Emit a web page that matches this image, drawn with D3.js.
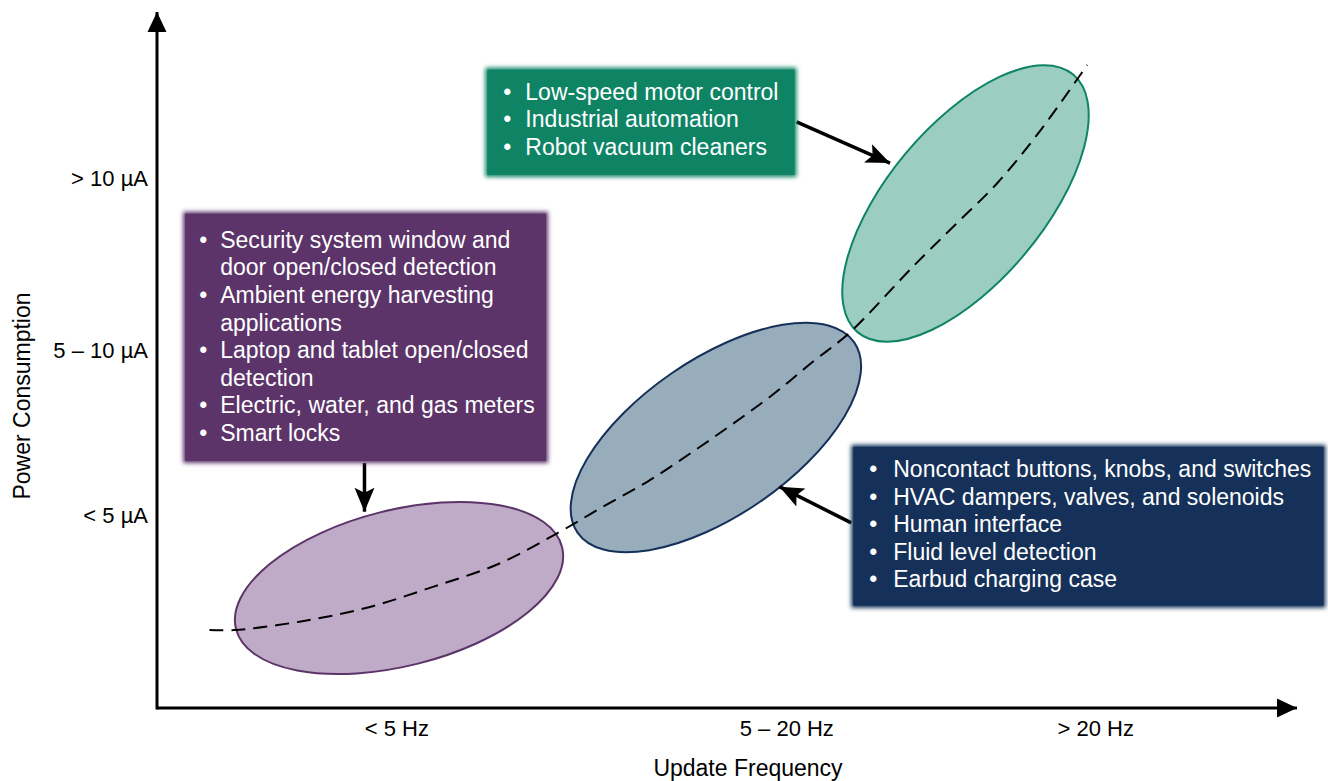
<!DOCTYPE html>
<html>
<head>
<meta charset="utf-8">
<script src="https://cdn.jsdelivr.net/npm/d3@7"></script>
<style>
  html, body { margin: 0; padding: 0; background: #ffffff; }
  svg { display: block; font-family: "Liberation Sans", Arial, Helvetica, sans-serif; }
</style>
</head>
<body>
<svg id="chart" width="1328" height="781"></svg>
<script>
// ---------------- data ----------------
const xTickLabels = ["< 5 Hz", "5 – 20 Hz", "> 20 Hz"];
const xTickValues = [21.0, 55.2, 82.3];
const yTickLabels = ["> 10 µA", "5 – 10 µA", "< 5 µA"];
const yTickValues = [76.15, 51.3, 27.6];
const xTitle = "Update Frequency";
const yTitle = "Power Consumption";

// trend curve (frequency units, power units)
const trendX = [4.6, 6.8, 12.5, 18.4, 24.2, 30.1, 35.1, 39.1, 43.0, 46.8, 50.4, 54.0, 57.5, 60.8, 66.3, 70.0, 73.7, 77.5, 81.6];
const trendY = [11.2, 11.2, 12.4, 14.4, 17.4, 20.8, 25.1, 28.9, 32.5, 36.6, 40.7, 45.0, 49.7, 54.0, 63.4, 69.4, 75.4, 83.0, 92.4];

// operating regions: major-axis endpoints + half width (x units)
const regionNames = ["low", "mid", "high"];
const regionX1 = [6.93, 36.89, 61.47];
const regionY1 = [11.35, 25.20, 53.97];
const regionX2 = [35.53, 61.16, 80.37];
const regionY2 = [23.13, 52.53, 91.01];
const regionHalfWidth = [6.84, 6.84, 6.84];

// application boxes (data units: left, right, top, bottom)
const boxLeft = [2.3, 60.9, 28.8];
const boxRight = [34.3, 102.5, 56.1];
const boxTop = [71.3, 37.8, 92.0];
const boxBottom = [35.2, 14.4, 76.3];

// arrows from box to region
const arrowX1 = [18.2, 60.9, 56.1];
const arrowY1 = [35.2, 26.6, 84.2];
const arrowX2 = [18.2, 54.6, 64.3];
const arrowY2 = [28.2, 31.8, 78.3];

const lowApps = [
  ["Security system window and", "door open/closed detection"],
  ["Ambient energy harvesting", "applications"],
  ["Laptop and tablet open/closed", "detection"],
  ["Electric, water, and gas meters"],
  ["Smart locks"]
];
const midApps = [
  ["Noncontact buttons, knobs, and switches"],
  ["HVAC dampers, valves, and solenoids"],
  ["Human interface"],
  ["Fluid level detection"],
  ["Earbud charging case"]
];
const highApps = [
  ["Low-speed motor control"],
  ["Industrial automation"],
  ["Robot vacuum cleaners"]
];
const regionApps = [lowApps, midApps, highApps];

// ---------------- styles ----------------
const boxColors = ["#5c3469", "#163159", "#0e8465"];
const fillColors = ["#bfabc7", "#98adbc", "#9bcdc0"];
const strokeColors = ["#5c3469", "#163159", "#0e8465"];
const textTopPad = [28, 24, 24];
const bulletPad = [16, 18, 18];
const textPad = [37, 42, 40];
const lineStep = 27.6;
const tickFont = 22;
const titleFont = 23;
const boxFont = 23;

// ---------------- chart ----------------
const svg = d3.select("#chart");
const x = d3.scaleLinear().domain([0, 100]).range([157, 1297]);
const y = d3.scaleLinear().domain([0, 100]).range([708, 12]);

const defs = svg.append("defs");
defs.append("marker")
  .attr("id", "axisHead")
  .attr("viewBox", "0 0 20 20")
  .attr("refX", 20).attr("refY", 10)
  .attr("markerWidth", 20).attr("markerHeight", 20)
  .attr("markerUnits", "userSpaceOnUse")
  .attr("orient", "auto")
  .append("path").attr("d", "M0,0.5 L20,10 L0,19.5 Z").attr("fill", "#000");
defs.append("marker")
  .attr("id", "arrowHead")
  .attr("viewBox", "0 0 24 22")
  .attr("refX", 24).attr("refY", 11)
  .attr("markerWidth", 24).attr("markerHeight", 22)
  .attr("markerUnits", "userSpaceOnUse")
  .attr("orient", "auto")
  .append("path").attr("d", "M0,1 L24,11 L0,21 L5,11 Z").attr("fill", "#000");
defs.append("filter")
  .attr("id", "soft")
  .attr("x", "-10%").attr("y", "-10%").attr("width", "120%").attr("height", "120%")
  .append("feGaussianBlur").attr("stdDeviation", 2.2);

// ellipses (regions)
const regions = regionNames.map((n, i) => {
  const px1 = x(regionX1[i]), py1 = y(regionY1[i]);
  const px2 = x(regionX2[i]), py2 = y(regionY2[i]);
  const cx = (px1 + px2) / 2, cy = (py1 + py2) / 2;
  const a = Math.hypot(px2 - px1, py2 - py1) / 2;
  const b = x(regionHalfWidth[i]) - x(0);
  const ang = Math.atan2(py2 - py1, px2 - px1) * 180 / Math.PI;
  return { cx, cy, a, b, ang, i };
});

svg.append("g").selectAll("ellipse")
  .data(regions).join("ellipse")
  .attr("cx", 0).attr("cy", 0)
  .attr("rx", d => d.a).attr("ry", d => d.b)
  .attr("transform", d => `translate(${d.cx},${d.cy}) rotate(${d.ang})`)
  .attr("fill", d => fillColors[d.i])
  .attr("stroke", d => strokeColors[d.i])
  .attr("stroke-width", 2);

// trend line
const trend = trendX.map((v, i) => [v, trendY[i]]);
svg.append("path")
  .datum(trend)
  .attr("d", d3.line().x(d => x(d[0])).y(d => y(d[1])).curve(d3.curveCatmullRom.alpha(0.5)))
  .attr("fill", "none")
  .attr("stroke", "#000")
  .attr("stroke-width", 2)
  .attr("stroke-dasharray", "14,8");

// axes
const gx = svg.append("g").attr("transform", `translate(0,${y(0)})`)
  .call(d3.axisBottom(x).tickValues(xTickValues).tickFormat((d, i) => xTickLabels[i]).tickSize(0).tickPadding(12));
gx.select(".domain").remove();
gx.selectAll("text").attr("font-size", tickFont).attr("font-family", "Liberation Sans, Arial, sans-serif").attr("fill", "#000");

const gy = svg.append("g").attr("transform", `translate(${x(0)},0)`)
  .call(d3.axisLeft(y).tickValues(yTickValues).tickFormat((d, i) => yTickLabels[i]).tickSize(0).tickPadding(9));
gy.select(".domain").remove();
gy.selectAll("text").attr("font-size", tickFont).attr("font-family", "Liberation Sans, Arial, sans-serif").attr("fill", "#000");

svg.append("line")
  .attr("x1", x(0)).attr("y1", y(0)).attr("x2", x(100)).attr("y2", y(0))
  .attr("stroke", "#000").attr("stroke-width", 3).attr("marker-end", "url(#axisHead)");
svg.append("line")
  .attr("x1", x(0)).attr("y1", y(0) + 1.5).attr("x2", x(0)).attr("y2", y(100))
  .attr("stroke", "#000").attr("stroke-width", 3).attr("marker-end", "url(#axisHead)");

svg.append("text")
  .attr("x", 748).attr("y", 776)
  .attr("text-anchor", "middle").attr("font-size", titleFont).attr("fill", "#000")
  .text(xTitle);
svg.append("text")
  .attr("transform", `translate(30,${396}) rotate(-90)`)
  .attr("text-anchor", "middle").attr("font-size", titleFont).attr("fill", "#000")
  .text(yTitle);

// arrows
svg.append("g").selectAll("line")
  .data(regionNames.map((n, i) => i)).join("line")
  .attr("x1", i => x(arrowX1[i])).attr("y1", i => y(arrowY1[i]))
  .attr("x2", i => x(arrowX2[i])).attr("y2", i => y(arrowY2[i]))
  .attr("stroke", "#000").attr("stroke-width", 3.5)
  .attr("marker-end", "url(#arrowHead)");

// boxes
regionNames.forEach((n, i) => {
  const L = x(boxLeft[i]), R = x(boxRight[i]), T = y(boxTop[i]), B = y(boxBottom[i]);
  const g = svg.append("g");
  g.append("rect").attr("x", L).attr("y", T).attr("width", R - L).attr("height", B - T)
    .attr("fill", boxColors[i]).attr("filter", "url(#soft)");
  g.append("rect").attr("x", L + 2).attr("y", T + 2).attr("width", R - L - 4).attr("height", B - T - 4)
    .attr("fill", boxColors[i]);
  let line = 0;
  regionApps[i].forEach(item => {
    const cy0 = T + textTopPad[i] + line * lineStep;
    g.append("text").attr("x", L + bulletPad[i]).attr("y", cy0).attr("dy", "0.35em")
      .attr("font-size", boxFont).attr("fill", "#fff").text("•");
    item.forEach((t, k) => {
      g.append("text").attr("x", L + textPad[i]).attr("y", cy0 + k * lineStep).attr("dy", "0.35em")
        .attr("font-size", boxFont).attr("fill", "#fff").text(t);
    });
    line += item.length;
  });
});
</script>
</body>
</html>
